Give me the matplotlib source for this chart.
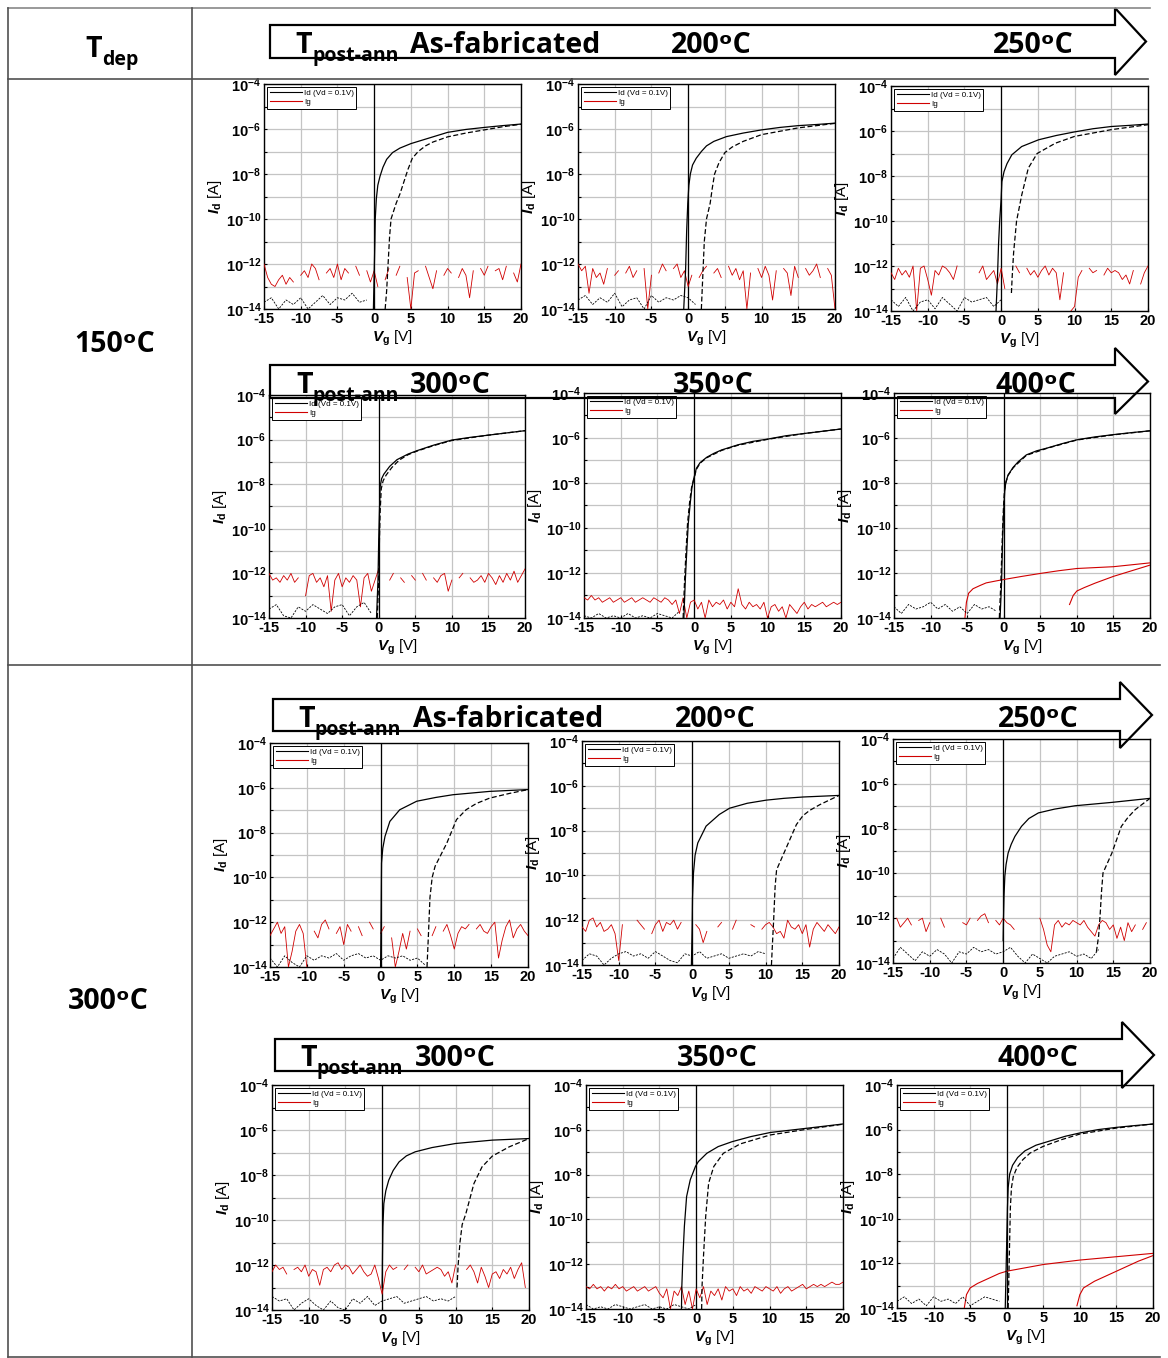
import numpy as np
import matplotlib
matplotlib.use("Agg")
import matplotlib.pyplot as plt
from matplotlib.lines import Line2D
from matplotlib.patches import Polygon
from matplotlib.ticker import FixedLocator, FixedFormatter, NullLocator
from matplotlib import font_manager as fm

plt.rcParams['font.family'] = ['Liberation Sans', 'DejaVu Sans']
plt.rcParams['font.weight'] = 'bold'
plt.rcParams['axes.unicode_minus'] = False
plt.rcParams['mathtext.fontset'] = 'custom'
plt.rcParams['mathtext.rm'] = 'Liberation Sans:bold'
plt.rcParams['mathtext.it'] = 'Liberation Sans:italic:bold'
plt.rcParams['mathtext.bf'] = 'Liberation Sans:bold'
plt.rcParams['mathtext.sf'] = 'Liberation Sans:bold'
plt.rcParams['mathtext.default'] = 'rm'

nan = np.nan
RED = '#d00000'

# ---------------- data (log10 of current in A) ----------------
X_TICKS = [-15, -10, -5, 0, 5, 10, 15, 20]
X_LABELS = ['-15', '-10', '-5', '0', '5', '10', '15', '20']
Y_DECADES = [-14, -13, -12, -11, -10, -9, -8, -7, -6, -5, -4]

# gate sweep used for the Ig records (0.5 V step)
VG_IG = np.arange(-15.0, 20.01, 0.5)

COL_HEAD = ['As-fabricated', '200\u1d52C', '250\u1d52C']
COL_HEAD2 = ['300\u1d52C', '350\u1d52C', '400\u1d52C']
ROW_HEAD = ['150\u1d52C', '300\u1d52C']

# --- Tdep 150C, as-fabricated
P1_FWD = [(-0.1,-14.0),(0.0,-12.5),(0.1,-11.0),(0.15,-10.0),(0.3,-9.1),(0.5,-8.5),(0.8,-8.1),(1.2,-7.7),(1.7,-7.35),(2.5,-7.05),(3.5,-6.85),(5.0,-6.65),(7.5,-6.4),(10.0,-6.15),(12.5,-6.02),(15.0,-5.93),(17.5,-5.85),(20.0,-5.78)]
P1_REV = [(1.5,-14.0),(1.7,-13.2),(1.9,-12.0),(2.1,-10.8),(2.3,-10.0),(3.0,-9.3),(3.5,-8.9),(4.2,-8.2),(4.6,-7.8),(5.2,-7.3),(6.0,-7.0),(7.0,-6.75),(8.0,-6.58),(10.0,-6.35),(12.5,-6.18),(15.0,-6.04),(17.5,-5.9),(20.0,-5.79)]
P1_IG = [-12.0,-12.6,-12.9,-13.0,-12.7,-12.5,-12.9,-12.6,-12.8,nan,
         -12.5,-12.3,-12.6,-12.0,-12.2,-12.7,nan,-12.4,-12.2,-12.6,
         -12.0,-12.7,-12.2,-12.4,nan,-12.1,-12.5,nan,-12.3,-12.8,
         -12.3,-13.0,nan,-12.7,-12.2,nan,-12.5,-12.1,nan,-12.6,
         -14.0,-12.4,-12.3,nan,-12.1,-12.6,-13.1,-12.3,nan,-12.5,
         -12.2,-12.4,nan,-12.6,-12.2,-12.5,-13.5,-12.3,nan,-12.2,
         -12.5,-12.1,nan,-12.3,-12.2,-12.7,-12.1,nan,-12.4,-12.8,
         -12.0]
P1_OFF = [-13.7,-13.5,-14.0,-13.6,-13.8,-13.5,-14.0,-13.7,-13.4,-13.8,-13.5,-13.6,-13.3,-13.7,-13.6]

# --- Tdep 150C, 200C
P2_FWD = [(-0.6,-14.0),(-0.35,-12.3),(-0.2,-10.5),(-0.05,-9.3),(0.1,-8.5),(0.3,-8.0),(0.6,-7.6),(1.1,-7.3),(1.8,-7.0),(2.5,-6.75),(3.5,-6.55),(5.2,-6.34),(7.5,-6.18),(10.0,-6.04),(12.5,-5.93),(15.0,-5.85),(17.5,-5.8),(20.0,-5.74)]
P2_REV = [(1.8,-14.0),(2.0,-12.5),(2.2,-11.0),(2.5,-10.0),(3.0,-9.3),(3.3,-8.6),(3.6,-8.0),(4.2,-7.5),(5.0,-7.05),(6.0,-6.8),(7.5,-6.55),(10.0,-6.25),(12.5,-6.1),(15.0,-5.95),(17.5,-5.85),(20.0,-5.75)]
P2_IG = [-12.0,-12.3,-12.1,-13.3,-12.2,-12.6,-12.4,-12.9,-12.2,nan,
         -12.5,-12.3,nan,-12.4,-12.1,-12.6,-12.3,nan,-12.2,-14.0,
         -12.5,nan,-12.4,-12.0,-12.3,nan,-12.2,-12.0,-12.6,-12.3,
         -13.0,-12.5,nan,-12.6,-12.3,-12.1,nan,-12.4,-12.2,-12.6,
         nan,-12.1,-12.5,-12.2,-12.7,-12.3,-14.0,-12.4,nan,-12.2,
         -12.6,-12.1,-12.5,-13.6,-12.3,nan,-12.2,-12.4,-13.4,-12.1,
         -12.6,nan,-12.2,-12.5,-12.3,-12.0,-12.6,nan,-12.2,-12.5,
         -14.0]
P2_OFF = [-13.6,-13.4,-13.8,-13.5,-13.7,-13.3,-13.9,-13.6,-13.5,-14.0,-13.4,-13.7,-13.5,-13.6,-13.4,-13.5,-13.8]

# --- Tdep 150C, 250C
P3_FWD = [(-0.7,-14.0),(-0.5,-12.5),(-0.35,-11.0),(-0.2,-10.0),(0.0,-9.0),(0.1,-8.25),(0.4,-7.8),(0.8,-7.45),(1.45,-7.06),(2.8,-6.69),(5.1,-6.39),(7.5,-6.2),(10.0,-6.04),(12.5,-5.9),(15.0,-5.8),(17.5,-5.75),(20.0,-5.69)]
P3_REV = [(1.4,-13.2),(1.5,-12.5),(1.7,-11.4),(2.1,-10.0),(2.8,-8.85),(3.7,-7.65),(4.9,-7.0),(7.4,-6.54),(10.0,-6.24),(15.0,-5.94),(20.0,-5.72)]
P3_IG = [-12.3,-12.6,-12.1,-12.4,-12.2,-12.5,-12.0,-14.0,-12.1,-12.0,
         -12.6,-13.3,-12.2,-12.4,-12.0,-12.1,-12.3,-12.6,-12.0,nan,
         -12.2,nan,-12.1,nan,-12.3,-12.0,-12.6,-12.4,-12.2,-12.8,
         -12.1,-13.0,nan,nan,-12.0,-12.3,nan,-12.1,-12.4,-12.2,
         -12.5,-12.2,-12.0,-12.4,-12.1,-12.3,-13.5,-12.3,nan,-14.0,
         -13.8,-12.5,-12.2,nan,-12.1,-12.3,-12.2,nan,-12.4,-12.1,
         -12.3,-12.2,-12.3,-12.6,-12.4,-12.8,-12.2,nan,-12.8,-12.3,
         -12.0]
P3_OFF = [-13.5,-13.8,-13.4,-14.0,-13.6,-13.5,-13.9,-13.4,-13.7,-14.0,-13.4,-13.6,-13.5,-13.4,-13.8,-13.5]

# --- Tdep 150C, 300C
P4_FWD = [(-0.3,-14.0),(-0.1,-12.3),(0.0,-10.5),(0.1,-9.2),(0.2,-8.1),(0.4,-7.75),(0.7,-7.55),(1.5,-7.2),(2.5,-6.9),(4.0,-6.65),(5.2,-6.5),(7.5,-6.25),(10.0,-6.02),(12.5,-5.9),(15.0,-5.8),(17.5,-5.7),(20.0,-5.6)]
P4_REV = [(-0.2,-14.0),(0.0,-12.3),(0.1,-10.5),(0.2,-9.2),(0.35,-8.2),(0.6,-7.85),(1.0,-7.6),(1.8,-7.25),(2.8,-6.92),(4.0,-6.68),(5.2,-6.52),(7.5,-6.27),(10.0,-6.04),(15.0,-5.8),(20.0,-5.6)]
P4_IG = [-12.0,-12.3,-12.2,-12.4,-12.1,-12.3,-12.0,-12.4,-12.2,nan,
         -13.0,-12.1,-12.0,-12.4,-12.2,-12.6,-12.1,-13.7,-12.3,-12.0,
         -12.6,-12.2,-12.4,-12.1,-12.3,-13.5,-12.2,-12.0,-12.8,-12.3,
         -11.8,nan,nan,-12.3,-12.0,nan,-12.2,-12.4,nan,-12.1,
         -12.3,nan,-12.0,-12.3,nan,-12.2,-12.4,-12.1,-12.0,-12.8,
         -12.3,nan,-12.2,-12.0,nan,-12.2,-12.4,-12.3,-12.1,-12.4,
         -12.0,-12.2,-12.5,-12.1,-12.4,-12.0,-12.3,-11.9,-12.4,-12.1,
         -11.8]
P4_OFF = [-13.6,-13.4,-13.9,-14.0,-13.5,-13.7,-13.4,-13.6,-13.8,-13.5,-13.4,-13.9,-13.5,-13.3,-13.8]

# --- Tdep 150C, 350C
P5_FWD = [(-1.4,-14.0),(-1.2,-12.3),(-1.0,-11.0),(-0.8,-9.8),(-0.5,-8.8),(-0.3,-8.2),(-0.1,-7.87),(0.3,-7.35),(0.8,-7.1),(1.7,-6.86),(2.7,-6.68),(3.75,-6.53),(6.0,-6.3),(8.0,-6.15),(10.0,-6.05),(12.5,-5.9),(15.0,-5.8),(17.5,-5.7),(20.0,-5.6)]
P5_REV = [(-1.5,-14.0),(-1.3,-12.3),(-1.1,-11.0),(-0.9,-9.8),(-0.6,-8.8),(-0.35,-8.2),(-0.1,-7.9),(0.3,-7.4),(0.8,-7.12),(1.7,-6.88),(3.75,-6.55),(6.0,-6.32),(10.0,-6.06),(15.0,-5.8),(20.0,-5.6)]
P5_IG = [-13.1,-13.2,-13.0,-13.2,-13.1,-13.3,-13.2,-13.1,-13.3,-13.2,
         -13.1,-13.3,-13.2,-13.1,-13.3,-13.2,-13.1,-13.2,-13.3,-13.1,
         -13.2,-13.3,-13.1,-13.2,-13.4,-13.2,-13.8,-13.1,-14.0,-13.3,
         -13.2,-13.6,-13.3,-14.0,-13.2,-13.5,-13.3,-13.4,-13.2,-13.6,
         -13.3,-13.5,-12.7,-13.4,-13.6,-13.3,-13.5,-13.4,-13.6,-13.3,
         -14.0,-13.5,-13.4,-13.7,-13.5,-14.0,-13.4,-13.6,-13.8,-13.5,
         -13.3,-13.6,-13.4,-13.5,-13.4,-13.3,-13.5,-13.4,-13.3,-13.4,
         -13.3]
P5_OFF = [-13.9,-14.0,-13.8,-14.0,-13.9,-14.0,-13.8,-14.0,-13.9,-14.0,-13.8,-13.9,-14.0,-13.7]

# --- Tdep 150C, 400C
P6_FWD = [(-0.5,-14.0),(-0.3,-12.5),(-0.15,-10.5),(0.0,-9.2),(0.15,-8.3),(0.3,-7.95),(0.6,-7.64),(1.3,-7.3),(2.0,-7.05),(3.1,-6.75),(4.5,-6.57),(5.9,-6.45),(8.0,-6.25),(10.0,-6.08),(12.5,-5.95),(15.0,-5.85),(17.5,-5.76),(20.0,-5.68)]
P6_REV = [(-0.6,-14.0),(-0.4,-12.5),(-0.2,-10.5),(-0.05,-9.2),(0.1,-8.35),(0.3,-7.98),(0.6,-7.66),(1.3,-7.32),(3.1,-6.77),(5.9,-6.46),(10.0,-6.09),(15.0,-5.86),(20.0,-5.68)]
P6_IG_A = [(-5.3,-14.0),(-5.1,-13.3),(-4.8,-12.9),(-4.2,-12.7),(-3.2,-12.55),(-2.4,-12.44),(-1.0,-12.35),(0.0,-12.29),(2.5,-12.15),(5.0,-12.02),(7.5,-11.9),(10.0,-11.8),(15.0,-11.72),(20.0,-11.55)]
P6_IG_B = [(9.0,-13.4),(9.5,-13.0),(10.0,-12.8),(11.0,-12.65),(12.5,-12.45),(15.0,-12.15),(17.5,-11.9),(20.0,-11.65)]
P6_OFF = [-13.5,-13.8,-13.4,-13.6,-13.5,-13.3,-13.6,-13.4,-13.7,-13.5,-13.8,-13.4,-13.6,-13.5,-13.7]

# --- Tdep 300C, as-fabricated
P7_FWD = [(0.0,-14.0),(0.05,-12.5),(0.1,-10.5),(0.13,-9.36),(0.3,-8.7),(0.6,-8.17),(1.26,-7.5),(2.6,-6.98),(4.9,-6.6),(7.5,-6.43),(9.8,-6.31),(14.8,-6.16),(20.0,-6.08)]
P7_REV = [(6.3,-14.0),(6.5,-12.5),(6.7,-10.9),(7.0,-10.0),(7.4,-9.5),(9.0,-8.46),(10.3,-7.42),(11.6,-6.98),(13.0,-6.7),(14.8,-6.46),(17.5,-6.25),(20.0,-6.08)]
P7_IG = [-12.6,-12.3,-12.0,-12.5,-12.2,-14.0,-13.3,-12.4,-12.1,-12.5,
         -14.0,nan,-12.4,-12.7,-12.1,-11.9,-12.3,nan,-12.5,-12.2,
         -13.0,-12.1,-12.4,nan,-12.2,-12.6,nan,-12.0,-12.3,nan,
         -12.5,-12.2,nan,-12.7,-14.0,-13.3,-12.5,-13.2,-12.4,nan,
         -12.3,-12.6,nan,nan,-12.6,-12.2,nan,-12.4,-12.1,-12.6,
         -13.2,-12.5,-12.2,-12.3,-12.1,nan,-12.3,-12.1,-12.4,-12.5,
         -12.2,-12.0,-13.6,-12.8,-12.2,-11.9,-12.7,-12.3,-12.1,-12.4,
         -12.6]
P7_OFF = [-13.6,-14.0,-13.5,-13.8,-14.0,-13.5,-13.7,-13.5,-13.6,-13.4,-13.7,-13.5,-13.4,-13.6,-13.5,-13.7,-13.5,-13.6,-13.5,-13.7,-13.6,-13.9]

# --- Tdep 300C, 200C
P8_FWD = [(-0.1,-14.0),(0.0,-12.3),(0.05,-11.0),(0.18,-9.9),(0.4,-9.1),(0.77,-8.55),(1.9,-7.8),(3.7,-7.28),(5.1,-7.0),(7.5,-6.78),(10.1,-6.64),(12.5,-6.56),(15.1,-6.5),(20.0,-6.43)]
P8_REV = [(10.8,-14.0),(10.9,-13.3),(11.1,-12.0),(11.3,-10.5),(11.5,-9.75),(12.8,-8.78),(14.2,-7.73),(15.1,-7.33),(16.0,-7.1),(17.4,-6.84),(20.0,-6.43)]
P8_IG = [-12.3,-12.5,-12.0,-11.9,-12.3,-12.1,-12.5,-12.4,-12.2,-12.6,
         -13.8,-12.2,nan,nan,nan,-12.0,-12.2,-12.4,nan,-12.6,
         -12.2,-12.0,-12.5,-12.1,-12.2,-12.0,-12.4,-12.1,nan,-12.3,
         nan,-12.2,-12.4,-13.0,-12.5,nan,nan,-12.3,-12.1,nan,
         nan,-12.4,-12.0,nan,nan,nan,-12.2,-12.3,nan,-12.4,
         -12.2,-12.1,-12.3,-12.6,-12.5,-12.8,-12.0,-12.3,-12.4,-12.2,
         -12.6,-12.2,-13.2,-12.4,-12.1,-12.3,-12.5,-12.2,-12.4,-12.6,
         -12.3]
P8_OFF = [-13.8,-13.5,-13.6,-14.0,-13.7,-13.5,-13.4,-13.6,-13.5,-13.7,-13.4,-13.6,-13.8,-13.9,-13.5,-13.6,-13.4,-13.7,-13.6,-13.5,-13.7,-13.6,-13.5,-13.6,-13.4,-13.5]

# --- Tdep 300C, 250C
P9_FWD = [(0.0,-13.0),(0.05,-12.0),(0.12,-11.0),(0.23,-10.13),(0.4,-9.6),(0.68,-9.09),(1.1,-8.7),(1.6,-8.35),(2.5,-7.9),(3.5,-7.55),(4.8,-7.3),(7.0,-7.13),(9.8,-6.98),(14.8,-6.83),(20.0,-6.65)]
P9_REV = [(12.7,-13.5),(13.0,-12.8),(13.2,-11.9),(13.4,-10.8),(13.6,-9.98),(14.8,-9.1),(16.1,-7.9),(17.0,-7.5),(18.0,-7.15),(20.0,-6.65)]
P9_IG = [nan,-12.0,-12.4,-12.2,-12.0,-12.3,nan,-12.1,-12.0,-12.6,
         -12.2,nan,nan,-12.0,-12.4,nan,nan,nan,nan,-12.2,
         -12.3,-12.0,nan,-12.1,-11.9,-11.8,-12.2,nan,-12.1,-12.3,
         -12.0,-12.2,-12.3,-12.5,nan,nan,nan,nan,nan,nan,
         -12.0,-12.5,-13.2,-13.5,-12.3,-12.1,-12.4,-12.2,-12.3,-12.1,
         -12.2,-12.3,-12.1,-12.4,-12.6,-12.8,-12.3,-12.1,-12.2,-12.5,
         -12.3,-12.9,-12.4,-13.0,-12.2,-12.6,-12.3,nan,-12.5,-12.2,
         nan]
P9_OFF = [-13.8,-13.3,-13.6,-13.9,-13.5,-13.7,-13.4,-13.6,-14.0,-13.5,-13.6,-13.3,-13.5,-13.4,-13.6,-13.5,-13.3,-13.7,-14.0,-13.6,-13.8,-14.0,-13.7,-13.6,-13.5,-13.7,-13.6,-13.8,-13.4]

# --- Tdep 300C, 300C
P10_FWD = [(0.0,-13.0),(0.05,-11.5),(0.1,-10.3),(0.23,-9.27),(0.5,-8.7),(0.9,-8.23),(1.5,-7.8),(2.3,-7.42),(3.3,-7.15),(4.5,-6.97),(6.8,-6.78),(10.0,-6.6),(15.0,-6.45),(20.0,-6.38)]
P10_REV = [(10.2,-13.0),(10.35,-12.0),(10.6,-11.0),(10.9,-10.2),(11.4,-9.72),(12.5,-8.38),(13.6,-7.64),(15.0,-7.16),(17.3,-6.75),(20.0,-6.38)]
P10_IG = [-12.3,-12.0,-12.2,-12.1,-12.4,nan,-12.2,-12.1,-12.3,-12.0,
          -12.5,-12.2,-12.3,-12.9,-12.2,-12.1,-12.3,-12.0,-11.9,-12.2,
          -12.0,-12.1,-12.4,-12.2,-12.0,-12.3,-12.5,-12.4,-12.0,-12.6,
          -13.3,-12.3,-12.0,-12.2,-12.1,nan,-12.2,-12.0,nan,-12.1,
          -12.3,-12.0,-12.4,-12.3,-12.2,-12.1,-12.2,-12.5,-12.3,-12.8,
          -12.0,nan,nan,-12.2,-12.0,-12.3,-12.8,-12.1,-12.5,-13.0,
          -12.4,-12.3,-12.6,-12.2,-12.4,-12.1,-12.6,-12.2,-11.9,-13.0,
          nan]
P10_OFF = [-13.4,-13.6,-13.5,-14.0,-13.7,-13.5,-13.8,-14.0,-13.6,-13.9,-14.0,-13.5,-13.7,-13.4,-13.8,-13.6,-13.5,-13.4,-13.7,-13.6,-13.5,-13.4,-13.6,-13.5,-13.6,-13.4]

# --- Tdep 300C, 350C
P11_FWD = [(-2.0,-14.0),(-1.95,-13.0),(-1.8,-11.65),(-1.6,-10.3),(-1.3,-8.98),(-0.8,-8.23),(-0.1,-7.64),(0.3,-7.42),(1.45,-7.05),(3.0,-6.75),(4.9,-6.53),(7.5,-6.3),(10.1,-6.12),(15.1,-5.93),(20.0,-5.74)]
P11_REV = [(0.75,-14.0),(0.8,-13.0),(1.0,-11.65),(1.3,-9.87),(1.7,-8.38),(2.4,-7.64),(3.7,-7.05),(6.0,-6.63),(10.1,-6.23),(15.0,-5.98),(20.0,-5.75)]
P11_IG = [-13.0,-13.1,-12.9,-13.1,-13.0,-13.2,-13.0,-13.1,-12.9,-13.1,
          -13.0,-13.2,-13.1,-13.0,-13.2,-13.1,-13.0,-13.2,-13.1,-13.0,
          -13.3,-13.5,-13.1,-14.0,-13.2,-13.4,-13.0,-13.8,-13.2,-14.0,
          -13.1,-13.5,-13.0,-13.8,-13.2,-13.4,-13.1,-13.6,-13.0,-13.2,
          -13.1,-13.4,-13.0,-13.2,-13.1,-13.3,-13.0,-13.1,-13.2,-13.0,
          -13.1,-13.2,-13.0,-13.3,-13.1,-13.0,-13.2,-13.1,-13.0,-12.9,
          -13.1,-13.0,-12.9,-13.0,-12.9,-13.0,-12.9,-12.8,-12.9,-12.9,
          -12.8]
P11_OFF = [-13.8,-14.0,-13.9,-14.0,-13.8,-13.9,-14.0,-13.9,-13.8,-14.0,-13.9,-14.0,-13.8,-13.9,-14.0,-13.8]

# --- Tdep 300C, 400C
P12_FWD = [(-0.2,-14.0),(-0.1,-12.5),(0.0,-11.0),(0.1,-9.5),(0.2,-8.6),(0.4,-8.0),(0.8,-7.6),(1.5,-7.25),(2.5,-6.95),(4.0,-6.7),(6.0,-6.5),(8.0,-6.3),(10.0,-6.15),(12.5,-6.0),(15.0,-5.9),(17.5,-5.82),(20.0,-5.75)]
P12_REV = [(0.2,-14.0),(0.3,-12.5),(0.4,-11.0),(0.5,-9.5),(0.65,-8.6),(0.9,-8.1),(1.4,-7.7),(2.2,-7.35),(3.2,-7.05),(5.0,-6.75),(7.5,-6.45),(10.0,-6.2),(15.0,-5.93),(20.0,-5.75)]
P12_IG_A = [(-5.8,-14.0),(-5.5,-13.4),(-5.0,-13.1),(-4.0,-12.9),(-3.0,-12.75),(-2.0,-12.6),(-1.0,-12.45),(0.0,-12.35),(2.5,-12.2),(5.0,-12.05),(10.0,-11.85),(15.0,-11.7),(20.0,-11.55)]
P12_IG_B = [(9.6,-13.9),(10.0,-13.4),(10.5,-13.1),(12.0,-12.8),(14.0,-12.5),(16.0,-12.2),(18.0,-11.9),(20.0,-11.65)]
P12_OFF = [-13.7,-13.5,-13.8,-13.6,-13.9,-13.5,-13.7,-13.6,-13.8,-13.5,-13.9,-13.7,-13.5,-13.6,-13.7]

# panel boxes in pixels (x0, y0, x1, y1) of the plotting area
BOXES = [(264, 84, 521, 309), (578, 84, 835, 309), (891, 86, 1148, 311),
         (269, 395, 525, 618), (584, 393, 841, 618), (894, 393, 1150, 618),
         (270, 743, 528, 967), (582, 741, 839, 965), (893, 739, 1150, 963),
         (272, 1085, 529, 1310), (586, 1085, 843, 1309), (897, 1085, 1153, 1308)]

PANELS = [
    (P1_FWD, P1_REV, P1_IG, P1_OFF, []),
    (P2_FWD, P2_REV, P2_IG, P2_OFF, []),
    (P3_FWD, P3_REV, P3_IG, P3_OFF, []),
    (P4_FWD, P4_REV, P4_IG, P4_OFF, []),
    (P5_FWD, P5_REV, P5_IG, P5_OFF, []),
    (P6_FWD, P6_REV, None, P6_OFF, [P6_IG_A, P6_IG_B]),
    (P7_FWD, P7_REV, P7_IG, P7_OFF, []),
    (P8_FWD, P8_REV, P8_IG, P8_OFF, []),
    (P9_FWD, P9_REV, P9_IG, P9_OFF, []),
    (P10_FWD, P10_REV, P10_IG, P10_OFF, []),
    (P11_FWD, P11_REV, P11_IG, P11_OFF, []),
    (P12_FWD, P12_REV, None, P12_OFF, [P12_IG_A, P12_IG_B]),
]


def pick_bold_family():
    for fam in ['Noto Sans', 'Open Sans', 'Lato', 'Roboto', 'Inter']:
        try:
            path = fm.findfont(fm.FontProperties(family=fam, weight='bold'),
                               fallback_to_default=False)
        except Exception:
            continue
        name = path.lower()
        if 'bold' in name and 'semi' not in name and 'extra' not in name:
            return fam
    return 'DejaVu Sans'


HF_NAME = pick_bold_family()
HF = [HF_NAME, 'DejaVu Sans']

# ---------------- figure ----------------
W, H = 1168, 1358
fig = plt.figure(figsize=(W / 100, H / 100), dpi=100)
fig.patch.set_facecolor('white')


def add_px_axes(x0, y0, x1, y1):
    return fig.add_axes([x0 / W, 1 - y1 / H, (x1 - x0) / W, (y1 - y0) / H])


def curve(ax, pts, **kw):
    v, li = zip(*pts)
    ax.plot(v, 10.0 ** np.array(li), **kw)


for box, (fwd, rev, ig, off, igc) in zip(BOXES, PANELS):
    ax = add_px_axes(*box)
    ax.set_yscale('log')
    ax.set_xlim(-15, 20)
    ax.set_ylim(1e-14, 1e-4)
    ax.xaxis.set_major_locator(FixedLocator(X_TICKS))
    ax.xaxis.set_major_formatter(FixedFormatter(X_LABELS))
    ax.yaxis.set_major_locator(FixedLocator([10.0 ** d for d in Y_DECADES]))
    ax.yaxis.set_major_formatter(FixedFormatter(
        [r'$10^{%d}$' % d if d % 2 == 0 else '' for d in Y_DECADES]))
    ax.yaxis.set_minor_locator(NullLocator())
    ax.xaxis.set_minor_locator(NullLocator())
    ax.grid(True, color='#c4c4c4', lw=0.9)
    ax.set_axisbelow(True)
    ax.tick_params(direction='in', length=2.5, width=0.8, labelsize=10.5, pad=2)
    for s in ax.spines.values():
        s.set_linewidth(1.0)
    ax.axvline(0, color='black', lw=0.9, zorder=2)

    if ig is not None:
        ax.plot(VG_IG, 10.0 ** np.array(ig), color=RED, lw=0.6, zorder=3)
    for c in igc:
        curve(ax, c, color=RED, lw=0.8, zorder=3)
    off_v = np.arange(len(off)) - 15.0
    ax.plot(off_v, 10.0 ** np.array(off), color='black', lw=0.6,
            dashes=(2.5, 1.5), zorder=3)
    curve(ax, rev, color='black', lw=0.9, dashes=(4.0, 2.0), zorder=4)
    curve(ax, fwd, color='black', lw=0.9, zorder=5)

    ax.set_ylabel(r'$\mathit{I}_{\mathrm{d}}$ [A]', fontsize=11, labelpad=1)
    ax.set_xlabel(r'$\mathit{V}_{\mathrm{g}}$ [V]', fontsize=11, labelpad=2)

    h1 = Line2D([], [], color='black', lw=0.8)
    h2 = Line2D([], [], color=RED, lw=0.8)
    leg = ax.legend([h1, h2], ['Id (Vd = 0.1V)', 'Ig'], loc='upper left',
                    bbox_to_anchor=(0.0, 1.0), frameon=True, fancybox=False,
                    edgecolor='black', framealpha=1, borderpad=0.3,
                    labelspacing=0.15, handlelength=4.0, handletextpad=0.25,
                    borderaxespad=0.4,
                    prop={'family': 'Liberation Sans', 'weight': 'normal', 'size': 5.8})
    leg.get_frame().set_linewidth(0.7)

# ---------------- overlay: table, arrows, headers ----------------
ov = fig.add_axes([0, 0, 1, 1], zorder=20)
ov.set_xlim(0, W)
ov.set_ylim(H, 0)
ov.axis('off')
ov.patch.set_visible(False)

LC = '#505050'
ov.plot([8, 1150], [8, 8], color='#888888', lw=1.2)
ov.plot([8, 1148], [79, 79], color=LC, lw=1.2)
ov.plot([8, 1160], [665, 665], color=LC, lw=1.2)
ov.plot([8, 1160], [1357, 1357], color=LC, lw=1.2)
ov.plot([8, 8], [8, 1357], color=LC, lw=1.2)
ov.plot([192, 192], [8, 1357], color=LC, lw=1.2)

ARROWS = [  # x0, top, bottom, xhead, headtop, headbottom, tip
    (270, 25, 58, 1115, 8, 75, 1146),
    (270, 365, 398, 1115, 348, 414, 1148),
    (273, 699, 731, 1120, 682, 748, 1152),
    (275, 1039, 1071, 1122, 1022, 1088, 1154),
]
for x0, t, b, xh, ht, hb, tip in ARROWS:
    m = (t + b) / 2
    pts = [(x0, t), (xh, t), (xh, ht), (tip, m), (xh, hb), (xh, b), (x0, b)]
    ov.add_patch(Polygon(pts, closed=True, fill=False, ec='black', lw=1.6,
                         joinstyle='miter'))

BIG = 20.5
SUB = 14


def big(x, base, s, size=BIG):
    ov.text(x, base, s, fontsize=size, fontweight='bold', family=HF,
            va='baseline', ha='left', color='black')


def t_sub(x, base, sub):
    big(x, base, 'T')
    ov.text(x + 17, base + 8, sub, fontsize=SUB, fontweight='bold', family=HF,
            va='baseline', ha='left', color='black')


t_sub(85, 57, 'dep')
ov.text(115, 352, ROW_HEAD[0], fontsize=BIG, fontweight='bold', family=HF,
        ha='center', va='baseline')
ov.text(108, 1009, ROW_HEAD[1], fontsize=BIG, fontweight='bold', family=HF,
        ha='center', va='baseline')

HEAD_ROWS = [  # (x_T, baseline, x positions for the three labels, labels)
    (295, 53, [410, 671, 993], COL_HEAD),
    (296, 393, [410, 673, 995], COL_HEAD2),
    (298, 727, [413, 675, 998], COL_HEAD),
    (300, 1066, [415, 677, 998], COL_HEAD2),
]
for xt, base, xs, labels in HEAD_ROWS:
    t_sub(xt, base, 'post-ann')
    for x, s in zip(xs, labels):
        big(x, base, s)

fig.savefig('out.png', dpi=100, facecolor='white')
